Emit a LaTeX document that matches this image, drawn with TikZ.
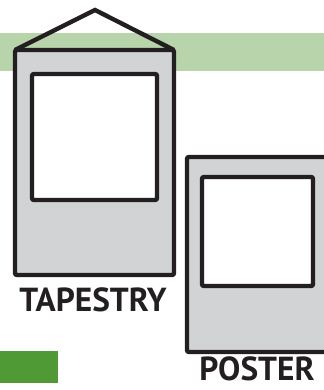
\documentclass[tikz,border=0pt]{standalone}
\usepackage{fontspec}
\newfontfamily\labelfont{PT Sans Bold}
\usetikzlibrary{positioning}
\definecolor{frameblack}{HTML}{231F20}
\definecolor{framegray}{HTML}{D1D3D4}
\definecolor{bandgreen}{HTML}{B8D4AA}
\definecolor{boxgreen}{HTML}{4F9A35}

\begin{document}
\begin{tikzpicture}[x=0.75pt,y=-0.75pt,
  frame/.style={draw=frameblack,line width=3.3pt,fill=framegray,rounded corners=1.5pt},
  pic/.style={draw=frameblack,line width=3.3pt,fill=white,rounded corners=1.5pt},
  lbl/.style={font=\labelfont\fontsize{25}{25}\selectfont,text=frameblack,inner sep=0pt}
]
\useasboundingbox (0,0) rectangle (324,390);
\clip (0,0) rectangle (324,390);
% green band and block
\fill[bandgreen] (0,33) rectangle (324,71);
\fill[boxgreen] (0,351) rectangle (58,383);
% tapestry
\draw[frameblack,line width=3.3pt,line join=miter] (15,50) -- (95,10) -- (174,50);
\draw[frame] (15,50) rectangle (174,275);
\draw[pic] (32,74) rectangle (157,200);
\node[lbl] (tapestry) at (93,300) {TAPESTRY};
% poster
\draw[frame] (187,157) rectangle (327,352);
\draw[pic] (202,177) rectangle (313,286);
\node[lbl] (poster) at (257,369) {POSTER};
\end{tikzpicture}
\end{document}
